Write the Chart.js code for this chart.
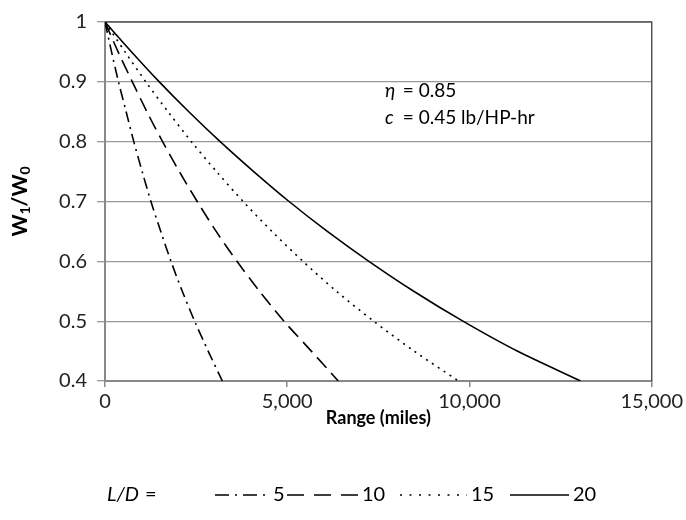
<!DOCTYPE html>
<html>
<head>
<meta charset="utf-8">
<script src="https://cdn.jsdelivr.net/npm/chart.js@4/dist/chart.umd.min.js"></script>
<style>
  html, body { margin: 0; padding: 0; background: #fff; }
  #wrap { width: 686px; height: 520px; position: relative; }
</style>
</head>
<body>
<div id="wrap"><canvas id="myChart"></canvas></div>
<script>
// weight ratio W1/W0 (same for every curve)
var ratios = [1, 0.95, 0.9, 0.85, 0.8, 0.75, 0.7, 0.65, 0.6, 0.55, 0.5, 0.45, 0.4];
// range in miles at each ratio
var rangeLD5  = [0, 180, 370, 580, 790, 1020, 1260, 1530, 1810, 2120, 2460, 2830, 3220];
var rangeLD10 = [0, 360, 750, 1150, 1580, 2040, 2530, 3050, 3620, 4240, 4910, 5660, 6400];
var rangeLD15 = [0, 550, 1120, 1730, 2370, 3060, 3790, 4580, 5430, 6350, 7370, 8480, 9700];
var rangeLD20 = [0, 730, 1490, 2300, 3160, 4080, 5050, 6100, 7240, 8470, 9820, 11310, 13050];
var ldLabels = ['5', '10', '15', '20'];
var yTicks = [0.4, 0.5, 0.6, 0.7, 0.8, 0.9, 1];
var xTicks = [0, 5000, 10000, 15000];

var FONT = 'Lato, "Open Sans", sans-serif';

function pts(xs) {
  return xs.map(function (x, i) { return { x: x, y: ratios[i] }; });
}

var dashes = [[11, 5, 2, 5], [14, 7], [2, 5], []];
var legendDashes = [[14, 6, 2, 6], [17, 10], [2, 7.5], []];
var series = [rangeLD5, rangeLD10, rangeLD15, rangeLD20];

// extra text: annotation, y title with subscripts, legend
var extras = {
  id: 'extras',
  afterDraw: function (chart) {
    var c = chart.ctx;
    var xs = chart.scales.x, ys = chart.scales.y, a = chart.chartArea;
    c.save();
    c.fillStyle = '#000';
    c.textBaseline = 'middle';
    // annotation
    var ax = xs.getPixelForValue(7680);
    c.font = 'italic 19px ' + FONT;
    c.fillText('\u03B7', ax, ys.getPixelForValue(0.885));
    c.fillText('c', ax, ys.getPixelForValue(0.839));
    c.font = '19px ' + FONT;
    c.fillText(' = 0.85', ax + 13, ys.getPixelForValue(0.885));
    c.fillText(' = 0.45 lb/HP-hr', ax + 13, ys.getPixelForValue(0.839));

    // y axis title W1/W0
    c.translate(20, (a.top + a.bottom) / 2);
    c.rotate(-Math.PI / 2);
    var parts = [['W', 21, 0], ['1', 14, 5], ['/W', 21, 0], ['0', 14, 5]];
    var total = 0;
    parts.forEach(function (p) { c.font = 'bold ' + p[1] + 'px ' + FONT; total += c.measureText(p[0]).width; });
    var px = -total / 2;
    c.textAlign = 'left';
    parts.forEach(function (p) {
      c.font = 'bold ' + p[1] + 'px ' + FONT;
      c.fillText(p[0], px, p[2]);
      px += c.measureText(p[0]).width;
    });
    c.restore();

    // legend
    var ly = 495;
    c.save();
    c.fillStyle = '#000';
    c.strokeStyle = '#000';
    c.textBaseline = 'middle';
    c.font = 'italic 20px ' + FONT;
    c.fillText('L/D', 107, ly);
    var lw = c.measureText('L/D').width;
    c.font = '20px ' + FONT;
    c.fillText('=', 107 + lw + 6, ly);
    var lineX = [215, 287, 400, 510];
    var lineW = [54, 71, 67, 59];
    chart.data.datasets.forEach(function (d, i) {
      c.lineWidth = 1.6;
      c.setLineDash(legendDashes[i]);
      c.beginPath();
      c.moveTo(lineX[i], ly);
      c.lineTo(lineX[i] + lineW[i], ly);
      c.stroke();
      c.setLineDash([]);
      c.fillText(d.label, lineX[i] + lineW[i] + 4, ly);
    });
    c.restore();
  }
};

// plot frame top/right dark
var frame = {
  id: 'frame',
  beforeDatasetsDraw: function (chart) {
    var c = chart.ctx, a = chart.chartArea;
    c.save();
    c.strokeStyle = '#555';
    c.lineWidth = 1.5;
    c.beginPath();
    c.moveTo(a.left, a.top);
    c.lineTo(a.right, a.top);
    c.lineTo(a.right, a.bottom);
    c.stroke();
    c.restore();
  }
};

var ctx = document.getElementById('myChart').getContext('2d');
var myChart = new Chart(ctx, {
  type: 'scatter',
  data: {
    datasets: series.map(function (s, i) {
      return {
        label: ldLabels[i],
        data: pts(s),
        showLine: true,
        borderColor: '#000',
        backgroundColor: '#000',
        borderWidth: 1.6,
        borderDash: dashes[i],
        pointRadius: 0,
        tension: 0.3
      };
    })
  },
  options: {
    responsive: true,
    maintainAspectRatio: false,
    animation: false,
    layout: { padding: { top: 2, right: 33, bottom: 44, left: 0 } },
    plugins: {
      tooltip: { enabled: false },
      legend: { display: false }
    },
    scales: {
      x: {
        type: 'linear',
        min: 0,
        max: 15000,
        afterBuildTicks: function (s) { s.ticks = xTicks.map(function (v) { return { value: v }; }); },
        afterFit: function (s) { s.height = 95; },
        ticks: {
          color: '#222',
          font: { family: FONT, size: 20 },
          padding: 3,
          callback: function (v) { return v.toLocaleString('en-US'); }
        },
        grid: { display: true, drawOnChartArea: false, color: '#888', tickLength: 6, lineWidth: 1.5 },
        border: { color: '#888', width: 2 },
        title: {
          display: true,
          text: 'Range (miles)',
          color: '#000',
          font: { family: FONT, size: 18, weight: 'bold' },
          padding: { top: 0, bottom: 47 }
        }
      },
      y: {
        type: 'linear',
        min: 0.4,
        max: 1,
        afterBuildTicks: function (s) { s.ticks = yTicks.map(function (v) { return { value: v }; }); },
        afterFit: function (s) { s.width = 105; },
        ticks: {
          color: '#222',
          font: { family: FONT, size: 20 },
          padding: 10,
          callback: function (v) { return String(v); }
        },
        grid: { color: '#999', lineWidth: 1.3, tickLength: 8 },
        border: { color: '#888', width: 2 }
      }
    }
  },
  plugins: [frame, extras]
});
</script>
</body>
</html>
